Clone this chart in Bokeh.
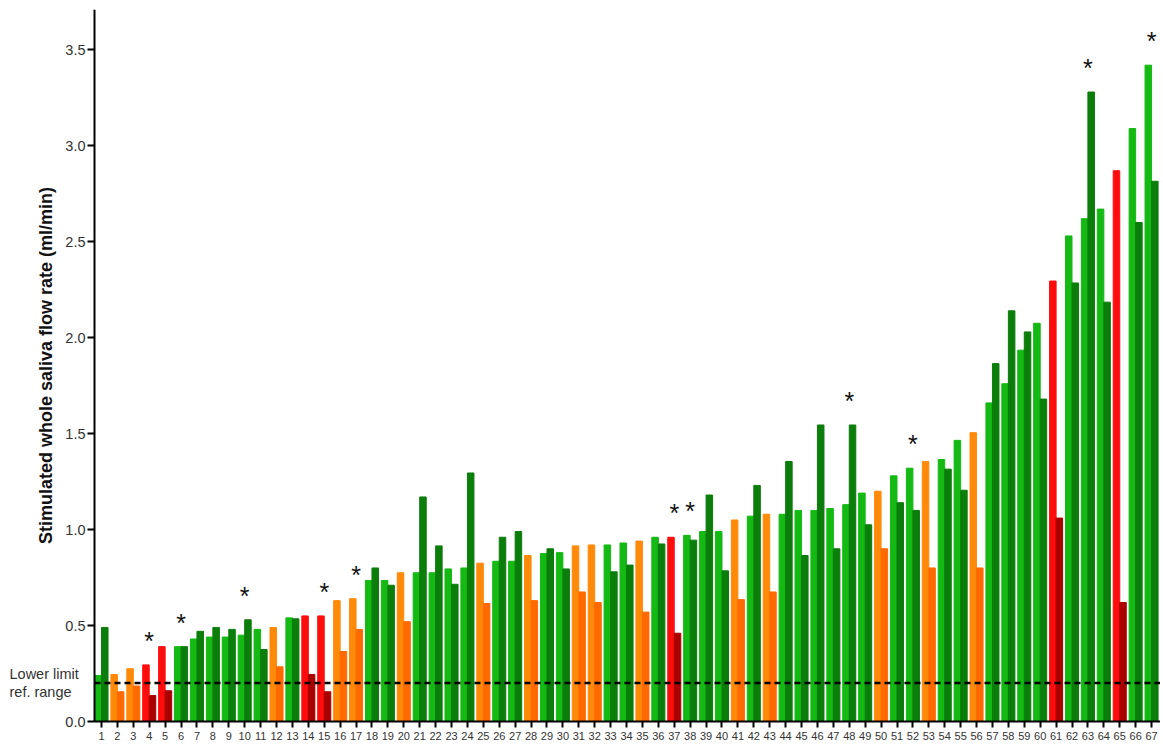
from bokeh.plotting import figure
from bokeh.models import ColumnDataSource, Label, FixedTicker, Range1d, PrintfTickFormatter
from bokeh.core.properties import value
from bokeh.embed import file_html
from bokeh.resources import INLINE

patients = list(range(1, 68))
groups = ["G", "O", "O", "R", "R", "G", "G", "G", "G", "G", "G", "O", "G", "R", "R", "O", "O",
          "G", "G", "O", "G", "G", "G", "G", "O", "G", "G", "O", "G", "G", "O", "O", "G", "G",
          "O", "G", "R", "G", "G", "G", "O", "G", "O", "G", "G", "G", "G", "G", "G", "O", "G",
          "G", "O", "G", "G", "O", "G", "G", "G", "G", "R", "G", "G", "G", "R", "G", "G"]
first_values = [0.24, 0.245, 0.275, 0.295, 0.39, 0.39, 0.43, 0.44, 0.44, 0.45, 0.48, 0.49, 0.54,
                0.55, 0.55, 0.63, 0.64, 0.735, 0.735, 0.775, 0.775, 0.775, 0.795, 0.80, 0.825,
                0.835, 0.835, 0.865, 0.875, 0.88, 0.915, 0.92, 0.92, 0.93, 0.94, 0.96, 0.96, 0.97,
                0.99, 0.99, 1.05, 1.07, 1.08, 1.08, 1.10, 1.10, 1.11, 1.13, 1.19, 1.20, 1.28, 1.32,
                1.355, 1.365, 1.465, 1.505, 1.66, 1.76, 1.935, 2.075, 2.295, 2.53, 2.62, 2.67,
                2.87, 3.09, 3.42]
second_values = [0.49, 0.155, 0.185, 0.135, 0.16, 0.39, 0.47, 0.49, 0.48, 0.53, 0.375, 0.285,
                 0.535, 0.245, 0.155, 0.365, 0.48, 0.80, 0.71, 0.52, 1.17, 0.915, 0.715, 1.295,
                 0.615, 0.96, 0.99, 0.63, 0.90, 0.795, 0.675, 0.62, 0.78, 0.815, 0.57, 0.925,
                 0.46, 0.945, 1.18, 0.785, 0.635, 1.23, 0.675, 1.355, 0.865, 1.545, 0.90, 1.545,
                 1.025, 0.90, 1.14, 1.10, 0.80, 1.315, 1.205, 0.80, 1.865, 2.14, 2.03, 1.68, 1.06,
                 2.285, 3.28, 2.185, 0.62, 2.60, 2.815]
starred = [4, 6, 10, 15, 17, 37, 38, 48, 52, 63, 67]
lower_limit = 0.2
y_ticks = [0.0, 0.5, 1.0, 1.5, 2.0, 2.5, 3.0, 3.5]

assert len(groups) == len(first_values) == len(second_values) == len(patients)

light_col = {"G": "#14b914", "O": "#ff8a0a", "R": "#ff0d0d"}
dark_col = {"G": "#0b7d0b", "O": "#ff6a00", "R": "#a90000"}

# layout (pixels); the frame covers the whole canvas below MT, axes sit at fixed locations
W, H = 1160, 744
MT = 9
PX_X = 15.91
XS = 1 - 101 / PX_X                   # data x at the left edge of the frame
XE = XS + W / PX_X
AXIS_X = XS + 94 / PX_X               # where the y axis sits
YE = 3.71
PX_Y = 712 / YE                       # y = 0 lies 712 px below the frame top
YS = -(H - MT - 712) / PX_Y

bw = 0.41
src1 = ColumnDataSource(dict(x=[p - bw / 2 for p in patients], top=first_values,
                             color=[light_col[g] for g in groups]))
src2 = ColumnDataSource(dict(x=[p + bw / 2 for p in patients], top=second_values,
                             color=[dark_col[g] for g in groups]))
star_y = [max(first_values[p - 1], second_values[p - 1]) + 0.125 for p in starred]
src3 = ColumnDataSource(dict(x=starred, y=star_y, t=["*"] * len(starred)))

p = figure(width=W, height=H, output_backend="svg", toolbar_location=None,
           x_range=Range1d(XS, XE), y_range=Range1d(YS, YE),
           min_border_left=0, min_border_right=0, min_border_top=MT, min_border_bottom=0)
p.outline_line_color = None
p.grid.visible = False
p.background_fill_color = "white"

p.vbar(x="x", top="top", bottom=0, width=bw, color="color", source=src1)
p.vbar(x="x", top="top", bottom=0, width=bw, color="color", source=src2)

# lower limit of the reference range (dashed), starting at the y axis
p.segment(x0=[AXIS_X], x1=[XE], y0=[lower_limit], y1=[lower_limit],
          line_color="black", line_width=2.5, line_dash="6 4")

p.text(x="x", y="y", text="t", source=src3, text_font=value("Liberation Sans"),
       text_font_size="25px", text_align="center", text_baseline="alphabetic",
       text_color="#111111")

p.xaxis.fixed_location = 0
p.xaxis.ticker = FixedTicker(ticks=patients)
p.xaxis.bounds = (AXIS_X, XE)
p.xaxis.major_label_text_font = "Liberation Sans"
p.xaxis.major_label_text_font_size = "11px"
p.xaxis.major_label_text_color = "#333333"
p.xaxis.major_label_standoff = 4
p.xaxis.major_tick_out = 6
p.xaxis.major_tick_in = 0
p.xaxis.minor_tick_line_color = None
p.xaxis.axis_line_width = 2
p.xaxis.major_tick_line_width = 2

p.yaxis.fixed_location = AXIS_X
p.yaxis.bounds = (0, YE)
p.yaxis.ticker = FixedTicker(ticks=y_ticks)
p.yaxis.formatter = PrintfTickFormatter(format="%.1f")
p.yaxis.major_label_text_font = "Liberation Sans"
p.yaxis.major_label_text_font_size = "14.5px"
p.yaxis.major_label_text_color = "#333333"
p.yaxis.major_label_standoff = 2
p.yaxis.major_tick_out = 7
p.yaxis.major_tick_in = 0
p.yaxis.minor_tick_line_color = None
p.yaxis.axis_line_width = 2
p.yaxis.major_tick_line_width = 2
p.yaxis.axis_label = "Stimulated whole saliva flow rate (ml/min)"
p.yaxis.axis_label_text_font = "Liberation Sans"
p.yaxis.axis_label_text_font_size = "18px"
p.yaxis.axis_label_text_font_style = "bold"
p.yaxis.axis_label_text_color = "#111111"
p.yaxis.axis_label_standoff = 6

# label of the dashed line, placed left of the y axis
for txt, dy in (("Lower limit", 0.045), ("ref. range", -0.045)):
    p.add_layout(Label(x=XS + 9 / PX_X, y=lower_limit + dy, text=txt,
                       text_align="left", text_baseline="middle",
                       text_font="Liberation Sans", text_font_size="14.5px",
                       text_color="#333333"))

open("out.html", "w").write(file_html(p, INLINE))
